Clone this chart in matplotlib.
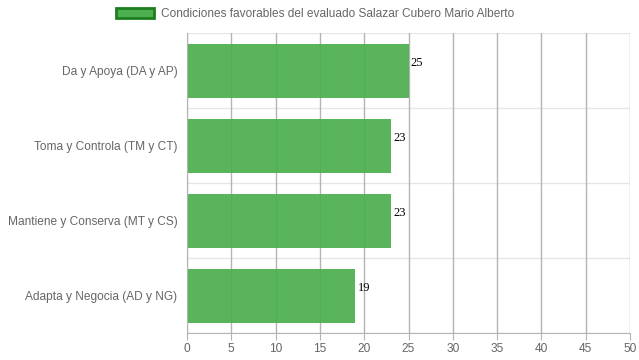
import numpy as np
import matplotlib
matplotlib.use("Agg")
import matplotlib.pyplot as plt
from matplotlib.patches import Patch

categories = ["Da y Apoya (DA y AP)", "Toma y Controla (TM y CT)",
              "Mantiene y Conserva (MT y CS)", "Adapta y Negocia (AD y NG)"]
values = [25, 23, 23, 19]
legend_label = "Condiciones favorables del evaluado Salazar Cubero Mario Alberto"
xticks = [0, 5, 10, 15, 20, 25, 30, 35, 40, 45, 50]

plt.rcParams['font.family'] = ['Liberation Sans', 'DejaVu Sans']

fig = plt.figure(figsize=(6.39, 3.6), dpi=100)
ax = fig.add_axes([187/639, 1-333/360, (630-187)/639, 300/360])

y = np.arange(len(categories))
bar_color = (0.298, 0.686, 0.314)
ax.barh(y, values, height=0.72, color=bar_color, alpha=0.93, zorder=2)

for yi, v in zip(y, values):
    ax.text(v + 0.25, yi - 0.1, str(v), family='Liberation Serif', fontsize=9,
            color='black', va='center', ha='left', zorder=3)

ax.set_xlim(0, 50)
ax.set_ylim(len(categories) - 0.5, -0.5)
ax.set_xticks(xticks)
ax.set_xticklabels([str(t) for t in xticks], color='#666666', fontsize=8.6)
ax.set_yticks(y)
ax.set_yticklabels(categories, color='#666666', fontsize=8.6)

# grid lines
for t in xticks:
    ax.axvline(t, color='#b4b4b4', lw=1, zorder=1)
for b in np.arange(-0.5, len(categories), 1.0):
    ax.axhline(b, color='#e6e6e6', lw=1, zorder=0)

for s in ['top', 'right']:
    ax.spines[s].set_visible(False)
ax.spines['left'].set_color('#b4b4b4')
ax.spines['bottom'].set_color('#b4b4b4')
ax.tick_params(axis='x', length=5, color='#b4b4b4', pad=2)
ax.tick_params(axis='y', length=0, pad=7)

handle = Patch(facecolor=bar_color, edgecolor='#1e7e1e', linewidth=2)
fig.legend([handle], [legend_label], loc='center', bbox_to_anchor=(0.493, 1 - 14/360),
           frameon=False, fontsize=8.6, handlelength=3.2, handleheight=0.9,
           handletextpad=0.6, labelcolor='#666666')

fig.savefig("out.png", dpi=100)
